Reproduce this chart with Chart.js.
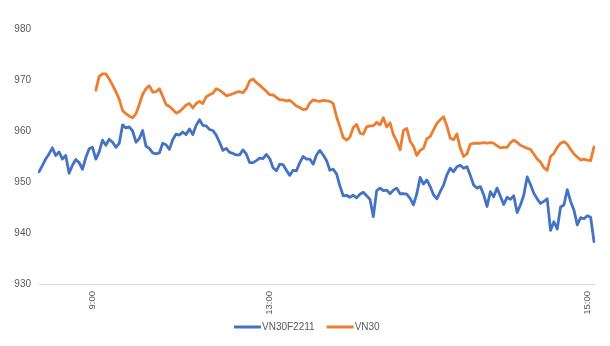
<!DOCTYPE html>
<html>
<head>
<meta charset="utf-8">
<script src="https://cdn.jsdelivr.net/npm/chart.js@4/dist/chart.umd.min.js"></script>
<style>
  html, body { margin: 0; padding: 0; background: #ffffff; }
  #wrap { width: 610px; height: 346px; position: relative; }
</style>
</head>
<body>
<div id="wrap"><canvas id="chart" width="610" height="346"></canvas></div>
<script>
// Intraday prices, one sample per slot across the trading day
const vn30f2211 = [
  952.0, 953.2, 954.5, 955.5, 956.7, 955.2, 955.9, 954.5, 955.2, 951.7,
  953.3, 954.4, 953.8, 952.5, 954.8, 956.5, 956.8, 954.5, 955.9, 958.2,
  957.2, 958.4, 957.8, 956.8, 957.6, 961.2, 960.6, 960.8, 960.0, 957.8,
  958.5, 960.1, 957.0, 956.6, 955.7, 955.5, 955.7, 957.6, 957.3, 956.4,
  958.3, 959.4, 959.2, 959.8, 959.3, 960.4, 959.3, 961.1, 962.2, 961.1,
  961.0, 960.3, 960.1, 959.2, 957.8, 956.2, 956.6, 955.8, 955.6, 955.3,
  955.3, 956.3, 955.5, 953.8, 953.8, 954.2, 954.7, 954.6, 955.4, 954.6,
  952.8, 952.2, 953.5, 953.4, 952.3, 951.3, 952.3, 952.2, 953.8, 955.0,
  954.5, 954.5, 953.5, 955.3, 956.2, 955.3, 954.2, 952.3, 952.5, 951.6,
  949.2, 947.3, 947.4, 947.0, 947.4, 946.9, 947.6, 948.0, 947.3, 946.6,
  943.2, 948.3, 948.8, 948.3, 948.4, 947.7, 948.4, 948.8, 947.7, 947.7,
  947.6, 946.8, 945.5, 947.7, 950.9, 949.6, 950.4, 949.1, 947.5, 946.7,
  948.1, 949.4, 951.4, 952.7, 952.0, 953.0, 953.3, 952.7, 953.0, 951.3,
  949.4, 948.8, 949.1, 947.5, 945.2, 948.1, 947.1, 948.8, 947.2, 945.6,
  947.0, 946.6, 947.3, 944.0, 945.5, 947.4, 951.0, 949.5, 947.8, 946.7,
  945.8, 946.2, 946.7, 940.5, 942.2, 940.8, 945.1, 945.5, 948.5, 946.2,
  944.5, 941.6, 943.0, 942.8, 943.4, 943.1, 938.3
];

// The cash index only trades from the 9:00 open, so its first slots are empty
const vn30 = [
  null, null, null, null, null, null, null, null, null, null,
  null, null, null, null, null, null, null, 968.0, 970.7, 971.2,
  971.2, 970.2, 969.0, 967.7, 966.2, 964.0, 963.4, 962.9, 962.6, 963.4,
  965.2, 967.2, 968.3, 968.9, 967.6, 967.7, 968.3, 966.8, 965.2, 964.8,
  964.2, 963.5, 963.8, 964.4, 965.1, 965.4, 964.5, 965.4, 965.8, 965.4,
  966.7, 967.1, 967.4, 968.3, 968.0, 967.5, 966.9, 967.1, 967.3, 967.6,
  967.7, 967.5, 968.3, 969.8, 970.2, 969.5, 969.0, 968.4, 967.8, 967.1,
  967.1, 966.6, 966.1, 966.1, 965.9, 966.0, 965.5, 964.9, 964.6, 964.2,
  964.3, 965.5, 966.1, 965.9, 965.8, 966.0, 965.9, 965.8, 965.4, 962.8,
  960.8, 958.7, 958.2, 958.8, 960.7, 961.3, 959.6, 959.4, 960.8, 961.0,
  961.0, 961.7, 961.2, 962.6, 960.8, 961.6, 959.3, 958.0, 956.3, 960.1,
  960.5, 958.0, 957.0, 955.2, 956.2, 956.6, 958.5, 958.9, 960.2, 961.5,
  962.2, 962.8, 961.0, 958.6, 958.3, 959.4, 956.6, 955.0, 955.5, 957.4,
  957.6, 957.6, 957.6, 957.7, 957.6, 957.7, 957.6, 957.1, 956.7, 956.8,
  956.8, 957.7, 958.2, 957.8, 957.2, 956.9, 956.6, 956.4, 955.5, 954.5,
  953.9, 952.8, 952.3, 955.0, 955.6, 956.8, 957.6, 957.9, 957.4, 956.4,
  955.5, 954.9, 954.3, 954.5, 954.3, 954.2, 956.9
];

// Time labels shown under the axis and the slot each one sits on
const timeLabels = ['9:00', '13:00', '15:00'];
const timeLabelSlots = [16, 69, 164];

// Value axis ticks
const yTicks = [930, 940, 950, 960, 970, 980];

const seriesNames = ['VN30F2211', 'VN30'];
const seriesColors = ['#4472C4', '#ED7D31'];

// Category labels: blank except where a time label belongs
const categories = vn30f2211.map(() => '');
timeLabelSlots.forEach((slot, k) => { categories[slot] = timeLabels[k]; });

const FONT = "'Liberation Sans', Arial, sans-serif";
const TEXT = '#595959';

// Rotated time labels (reading upward) and the legend strip
const decorations = {
  id: 'decorations',
  afterDraw(chart) {
    const { ctx, chartArea, scales } = chart;
    ctx.save();
    ctx.fillStyle = TEXT;
    ctx.font = '9.5px ' + FONT;
    ctx.textAlign = 'right';
    ctx.textBaseline = 'middle';
    timeLabelSlots.forEach((slot, k) => {
      const x = scales.x.getPixelForValue(slot);
      ctx.save();
      ctx.translate(x, chartArea.bottom + 7);
      ctx.rotate(-Math.PI / 2);
      ctx.fillText(timeLabels[k], 0, 0);
      ctx.restore();
    });

    // legend
    ctx.font = '10px ' + FONT;
    ctx.textAlign = 'left';
    const lineLen = 27, gap = 1, itemGap = 12;
    const widths = chart.data.datasets.map(ds => lineLen + gap + ctx.measureText(ds.label).width);
    const total = widths.reduce((a, b) => a + b, 0) + itemGap * (widths.length - 1);
    let x = Math.round((chart.width - total) / 2) + 2;
    const y = 327;
    chart.data.datasets.forEach((ds, i) => {
      ctx.strokeStyle = ds.borderColor;
      ctx.lineWidth = 3;
      ctx.beginPath();
      ctx.moveTo(x, y);
      ctx.lineTo(x + lineLen, y);
      ctx.stroke();
      ctx.fillStyle = TEXT;
      ctx.fillText(ds.label, x + lineLen + gap, y);
      x += widths[i] + itemGap;
    });
    ctx.restore();
  }
};

new Chart(document.getElementById('chart'), {
  type: 'line',
  data: {
    labels: categories,
    datasets: [
      { label: seriesNames[0], data: vn30f2211, borderColor: seriesColors[0], backgroundColor: seriesColors[0] },
      { label: seriesNames[1], data: vn30, borderColor: seriesColors[1], backgroundColor: seriesColors[1] }
    ]
  },
  options: {
    responsive: false,
    animation: false,
    events: [],
    layout: { padding: { left: 14, right: 16, top: 29, bottom: 62 } },
    elements: {
      point: { radius: 0 },
      line: { borderWidth: 2.8, tension: 0, borderJoinStyle: 'round', borderCapStyle: 'round' }
    },
    plugins: { legend: { display: false }, tooltip: { enabled: false } },
    scales: {
      x: {
        type: 'category',
        offset: false,
        grid: { display: false, drawTicks: false },
        border: { display: true, color: '#d9d9d9', width: 1 },
        ticks: { display: false },
        afterFit: scale => { scale.height = 0; }
      },
      y: {
        min: yTicks[0],
        max: yTicks[yTicks.length - 1],
        afterBuildTicks: scale => { scale.ticks = yTicks.map(v => ({ value: v })); },
        grid: { display: false, drawTicks: false },
        border: { display: false },
        ticks: { color: TEXT, font: { family: FONT, size: 10 }, padding: 8 },
        afterFit: scale => { scale.width = 25; }
      }
    }
  },
  plugins: [decorations]
});
</script>
</body>
</html>
